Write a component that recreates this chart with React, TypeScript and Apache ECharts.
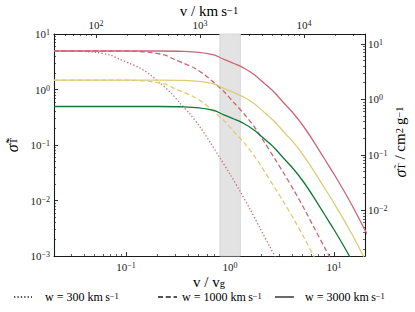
import React, { useEffect, useRef } from "react";
import * as echarts from "echarts";

// ---- axis ranges ----
const X_MIN = 0.0203; // v / v_g
const X_MAX = 19.9;
const V_G = 1940; // km/s corresponding to v/v_g = 1
const Y_MIN = 0.001;
const Y_MAX = 10;
const SIGMA_SCALE = 1.51; // cm^2/g per unit of dimensionless cross-section
const BAND = [0.8, 1.26];

// ---- tick labels ----
const bottomTickLabels = [0.1, 1, 10];
const topTickLabels = [100, 1000, 10000];
const leftTickLabels = [0.001, 0.01, 0.1, 1, 10];
const rightTickLabels = [0.01, 0.1, 1, 10];
const legendSpeeds = ["300", "1000", "3000"];

// ---- series values ----
const dottedV = [0.0203, 0.0361, 0.0504, 0.0702, 0.0875, 0.109, 0.136, 0.17, 0.212, 0.265, 0.33, 0.412, 0.515, 0.643, 0.802, 1.0, 1.247, 1.556, 1.941, 2.427, 3.027];
const roseDotted = [4.94, 4.88, 4.68, 4.19, 3.48, 2.94, 2.44, 1.86, 1.31, 0.902, 0.571, 0.362, 0.211, 0.113, 0.0583, 0.03, 0.0148, 0.00703, 0.0032, 0.00145, 0.000661];

const dashedV = [0.0203, 0.0677, 0.12, 0.168, 0.234, 0.292, 0.363, 0.453, 0.567, 0.707, 0.883, 1.1, 1.37, 1.72, 2.14, 2.67, 3.33, 4.16, 5.19, 6.47, 8.09, 10.1];
const roseDashed = [4.94, 4.94, 4.88, 4.68, 4.19, 3.48, 2.94, 2.44, 1.86, 1.31, 0.902, 0.571, 0.362, 0.211, 0.113, 0.0583, 0.03, 0.0148, 0.00703, 0.0032, 0.00145, 0.000661];
const sandDashed = [1.48, 1.48, 1.46, 1.4, 1.26, 1.04, 0.882, 0.732, 0.558, 0.393, 0.271, 0.171, 0.109, 0.0633, 0.0339, 0.0175, 0.009, 0.00444, 0.00211, 0.00096, 0.000435, 0.000198];

const solidV = [0.0203, 0.203, 0.361, 0.504, 0.702, 0.875, 1.09, 1.36, 1.7, 2.12, 2.65, 3.3, 4.12, 5.15, 6.43, 8.02, 10.0, 12.5, 15.6, 19.4, 24.3];
const roseSolid = [4.94, 4.94, 4.88, 4.68, 4.19, 3.48, 2.94, 2.44, 1.86, 1.31, 0.902, 0.571, 0.362, 0.211, 0.113, 0.0583, 0.03, 0.0148, 0.00703, 0.0032, 0.00145];
const sandSolid = [1.48, 1.48, 1.46, 1.4, 1.26, 1.04, 0.882, 0.732, 0.558, 0.393, 0.271, 0.171, 0.109, 0.0633, 0.0339, 0.0175, 0.009, 0.00444, 0.00211, 0.00096, 0.000435];
const greenSolid = [0.494, 0.494, 0.488, 0.468, 0.419, 0.348, 0.294, 0.244, 0.186, 0.131, 0.0902, 0.0571, 0.0362, 0.0211, 0.0113, 0.00583, 0.003, 0.00148, 0.000703, 0.00032, 0.000145];

const ROSE = "#CC6677";
const SAND = "#DDCC77";
const GREEN = "#117733";
const INK = "#1a1a1a";
const FONT = "Liberation Serif";

const DOT = [1.3, 2.1];
const DASH = [5, 2.8];

const lg = (v: number) => Math.round(Math.log10(v) * 1e9) / 1e9;

function minorTicks(lo: number, hi: number) {
  const out: number[] = [];
  for (let e = Math.floor(Math.log10(lo)); e <= Math.ceil(Math.log10(hi)); e++) {
    for (let k = 2; k <= 9; k++) {
      const v = k * Math.pow(10, e);
      if (v > lo && v < hi) out.push(lg(v));
    }
  }
  return out;
}

const tickRich = {
  b: { fontFamily: FONT, fontSize: 11, color: INK, lineHeight: 11, verticalAlign: "bottom" },
  s: { fontFamily: FONT, fontSize: 8, color: INK, lineHeight: 4, verticalAlign: "top" },
};
const titleRich = {
  t: { fontFamily: FONT, fontSize: 15, color: INK, lineHeight: 13 },
  i: { fontFamily: FONT, fontSize: 16, fontStyle: "italic", color: INK, lineHeight: 13 },
  sub: { fontFamily: FONT, fontSize: 10.5, color: INK, lineHeight: 4, verticalAlign: "bottom" },
  sup: { fontFamily: FONT, fontSize: 10.5, color: INK, lineHeight: 4, verticalAlign: "top" },
};
const legendRich = {
  t: { fontFamily: FONT, fontSize: 12, color: INK, lineHeight: 12 },
  sup: { fontFamily: FONT, fontSize: 8.5, color: INK, lineHeight: 4, verticalAlign: "top" },
};

const powLabel = (v: number) => {
  const n = Math.round(v);
  return `{b|10}{s|${n < 0 ? "\u2212" + -n : n}}`;
};

function majorAxis(position: string, lo: number, hi: number, ticks: number[], margin: number) {
  const vals = ticks.map(lg);
  return {
    type: "value",
    position,
    min: lg(lo),
    max: lg(hi),
    axisLine: { show: true, onZero: false, lineStyle: { color: INK, width: 1.1 } },
    axisTick: { show: true, inside: true, length: 4, customValues: vals, lineStyle: { color: INK, width: 0.9 } },
    axisLabel: { show: true, customValues: vals, formatter: powLabel, margin, rich: tickRich },
    splitLine: { show: false },
  };
}

function minorAxis(position: string, lo: number, hi: number) {
  return {
    type: "value",
    position,
    min: lg(lo),
    max: lg(hi),
    axisLine: { show: false, onZero: false },
    axisTick: { show: true, inside: true, length: 2, customValues: minorTicks(lo, hi), lineStyle: { color: INK, width: 0.7 } },
    axisLabel: { show: false },
    splitLine: { show: false },
  };
}

function lineSeries(name: string, xs: number[], ys: number[], color: string, type: any, extra: any = {}) {
  return {
    type: "line",
    name,
    xAxisIndex: 0,
    yAxisIndex: 0,
    data: xs.map((x, i) => [x, ys[i]]),
    symbol: "none",
    showSymbol: false,
    smooth: 0.3,
    clip: true,
    silent: true,
    z: 3,
    lineStyle: { color, width: 1.3, type, cap: "butt" },
    ...extra,
  };
}

function titleText(text: string, x: number, y: number, rotation = 0) {
  return {
    type: "text",
    x,
    y,
    rotation,
    silent: true,
    style: { text, rich: titleRich, align: "center", verticalAlign: "middle" },
  };
}

function legendGraphics() {
  const items = [
    { x0: 14, x1: 32, tx: 45, dash: DOT },
    { x0: 158, x1: 177, tx: 182, dash: DASH },
    { x0: 275, x1: 294, tx: 305, dash: null },
  ];
  const y = 297;
  const out: any[] = [];
  items.forEach((it, i) => {
    out.push({
      type: "line",
      shape: { x1: it.x0, y1: y, x2: it.x1, y2: y },
      style: { stroke: INK, lineWidth: 1.3, lineDash: it.dash || undefined },
      silent: true,
    });
    out.push({
      type: "text",
      x: it.tx,
      y,
      silent: true,
      style: {
        text: `{t|w = ${legendSpeeds[i]} km\u2009s}{sup|\u22121}`,
        rich: legendRich,
        verticalAlign: "middle",
        align: "left",
      },
    });
  });
  return out;
}

export default function App() {
  const ref = useRef<HTMLDivElement>(null);
  useEffect(() => {
    const chart = echarts.init(ref.current!, null, { renderer: "svg" });
    const option: any = {
      animation: false,
      backgroundColor: "#ffffff",
      grid: { left: 54, right: 50, top: 34, bottom: 56, containLabel: false, outerBoundsMode: "none" },
      xAxis: [
        { type: "log", min: X_MIN, max: X_MAX, show: false },
        majorAxis("bottom", X_MIN, X_MAX, bottomTickLabels, 5),
        minorAxis("bottom", X_MIN, X_MAX),
        majorAxis("top", X_MIN * V_G, X_MAX * V_G, topTickLabels, 4),
        minorAxis("top", X_MIN * V_G, X_MAX * V_G),
      ],
      yAxis: [
        { type: "log", min: Y_MIN, max: Y_MAX, show: false },
        majorAxis("left", Y_MIN, Y_MAX, leftTickLabels, 4),
        minorAxis("left", Y_MIN, Y_MAX),
        majorAxis("right", Y_MIN * SIGMA_SCALE, Y_MAX * SIGMA_SCALE, rightTickLabels, 3),
        minorAxis("right", Y_MIN * SIGMA_SCALE, Y_MAX * SIGMA_SCALE),
      ],
      series: [
        lineSeries("rose w=300", dottedV, roseDotted, ROSE, DOT, {
          markArea: {
            silent: true,
            z: 1,
            itemStyle: { color: "#e3e3e3", borderColor: "#d2d2d2", borderWidth: 0.8 },
            data: [[{ xAxis: BAND[0] }, { xAxis: BAND[1] }]],
          },
        }),
        lineSeries("rose w=1000", dashedV, roseDashed, ROSE, DASH),
        lineSeries("rose w=3000", solidV, roseSolid, ROSE, "solid"),
        lineSeries("sand w=1000", dashedV, sandDashed, SAND, DASH),
        lineSeries("sand w=3000", solidV, sandSolid, SAND, "solid"),
        lineSeries("green w=3000", solidV, greenSolid, GREEN, "solid"),
      ],
      graphic: [
        titleText("{t|v / km\u2009s}{sup|\u22121}", 209, 11),
        titleText("{t|v / v}{sub|g}", 209, 282),
        titleText("{i|\u03c3\u0303}{sub|T\u0303}", 12, 145, Math.PI / 2),
        titleText("{i|\u03c3}{sub|T\u0303}{t| / cm}{sup|2}{t|\u2009g}{sup|\u22121}", 400, 142, Math.PI / 2),
        ...legendGraphics(),
      ],
    };
    chart.setOption(option);
    return () => chart.dispose();
  }, []);
  return <div ref={ref} style={{ position: "fixed", left: 0, top: 0, width: 415, height: 312 }} />;
}
